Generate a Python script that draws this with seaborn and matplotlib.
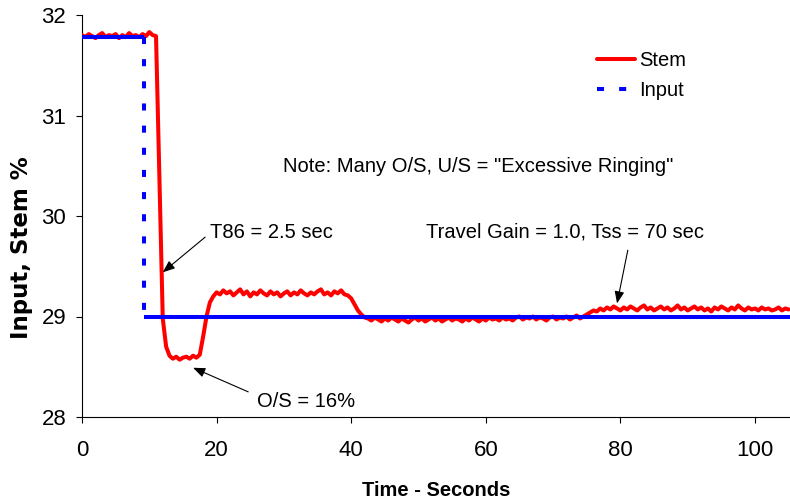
import matplotlib
matplotlib.use("Agg")
import matplotlib.pyplot as plt
import numpy as np
import pandas as pd
import seaborn as sns


# Stem trace, every 0.5 s, split in pieces with their start time
STEP = 0.5
stem_hold = [31.80, 31.78, 31.81, 31.79, 31.77, 31.80, 31.82, 31.78, 31.80, 31.79,
             31.81, 31.77, 31.80, 31.78, 31.82, 31.79, 31.80, 31.78, 31.81, 31.79,
             31.83, 31.80, 31.79]
stem_drop = [30.40, 28.98, 28.70, 28.61]
stem_bottom = [28.58, 28.60, 28.57, 28.59, 28.60, 28.58, 28.61, 28.59]
stem_rise = [28.62, 28.80, 29.00, 29.14, 29.20]
stem_high = [29.24, 29.22, 29.26, 29.23, 29.25, 29.21, 29.24, 29.27, 29.22, 29.25,
             29.20, 29.24, 29.22, 29.26, 29.23, 29.21, 29.25, 29.22, 29.24, 29.20,
             29.23, 29.25, 29.21, 29.24, 29.22, 29.26, 29.23, 29.21, 29.24, 29.22,
             29.25, 29.27, 29.22, 29.24, 29.21, 29.25, 29.23, 29.26, 29.22, 29.21]
stem_fall = [29.18, 29.12, 29.06, 29.02, 28.99]
stem_low = [28.98, 28.96, 28.99, 28.97, 28.95, 28.98, 28.96, 28.99, 28.97, 28.95,
            28.98, 28.96, 28.94, 28.97, 28.99, 28.96, 28.98, 28.95, 28.97, 28.99,
            28.96, 28.98, 28.95, 28.97, 28.99, 28.96, 28.98, 28.97, 28.95, 28.98,
            28.96, 28.99, 28.97, 28.95, 28.98, 28.96, 28.99, 28.97, 28.98, 28.96,
            28.99, 28.97, 28.98, 28.96, 28.99, 29.00, 28.97, 28.99, 28.98, 29.00,
            28.97, 28.99, 28.98, 28.96, 28.99, 29.00, 28.97, 28.99, 28.98, 29.00,
            28.97, 28.99, 29.01, 28.98, 29.00]
stem_settle = [29.02, 29.04, 29.06, 29.05, 29.08, 29.06, 29.09, 29.07, 29.10, 29.08,
               29.06, 29.09, 29.07, 29.10, 29.08, 29.06, 29.09, 29.11, 29.07, 29.09,
               29.06, 29.08, 29.10, 29.07, 29.09, 29.06, 29.08, 29.11, 29.07, 29.09,
               29.06, 29.08, 29.10, 29.07, 29.09, 29.06, 29.08, 29.05, 29.09, 29.07,
               29.10, 29.08, 29.06, 29.09, 29.07, 29.11, 29.08, 29.06, 29.09, 29.07,
               29.08, 29.06, 29.09, 29.07, 29.08, 29.06, 29.07, 29.09, 29.06, 29.08,
               29.07]
segment_starts = [0.0, 11.5, 13.5, 17.5, 20.0, 40.0, 42.5, 75.0]

# Input step
input_time = [0.0, 9.2, 9.2, 105.2]
input_value = [31.78, 31.78, 29.0, 29.0]

x_ticks = [0, 20, 40, 60, 80, 100]
y_ticks = [28, 29, 30, 31, 32]

TEXT_FONT = "Liberation Sans"


def build_stem() -> pd.DataFrame:
    pieces = [stem_hold, stem_drop, stem_bottom, stem_rise,
              stem_high, stem_fall, stem_low, stem_settle]
    times, values = [], []
    for start, vals in zip(segment_starts, pieces):
        times.extend(start + STEP * np.arange(len(vals)))
        values.extend(vals)
    return pd.DataFrame({"Time": times, "Value": values})


def main() -> None:
    sns.set_style("ticks")
    plt.rcParams["font.family"] = [TEXT_FONT, "DejaVu Sans"]
    plt.rcParams["text.color"] = "black"

    fig = plt.figure(figsize=(7.9, 5.01), dpi=100)
    ax = fig.add_axes([82 / 790, 84 / 501, 708 / 790, 402 / 501])

    stem = build_stem()
    sns.lineplot(data=stem, x="Time", y="Value", color="#FF0000", lw=2.9,
                 estimator=None, sort=False, label="Stem", ax=ax, zorder=3)

    input_label = "Input"
    for i in range(len(input_time) - 1):
        xs = input_time[i:i + 2]
        ys = input_value[i:i + 2]
        if ys[0] == ys[1]:
            ax.plot(xs, ys, color="#0000FF", lw=2.9, solid_capstyle="butt", zorder=4)
        else:
            ax.plot(xs, ys, color="#0000FF", lw=2.9, ls=(0, (1.75, 3.75)),
                    dash_capstyle="butt", label=input_label, zorder=4)
            input_label = "_nolegend_"

    ax.set_xlim(0, 105.2)
    ax.set_ylim(28, 32)
    ax.set_xticks(x_ticks)
    ax.set_yticks(y_ticks)
    ax.tick_params(axis="both", direction="out", length=4.3, width=0.8,
                   colors="black", labelsize=16)
    ax.tick_params(axis="x", pad=12)
    ax.tick_params(axis="y", pad=7)

    sns.despine(ax=ax)
    for side in ["left", "bottom"]:
        ax.spines[side].set_color("black")
        ax.spines[side].set_linewidth(0.8)

    ax.set_xlabel("Time - Seconds", fontsize=14.5, fontweight="bold", color="black")
    ax.xaxis.set_label_coords(0.5, -(491 - 417) / 402)
    ax.xaxis.label.set_va("center")
    ax.set_ylabel("Input, Stem %", family=["DejaVu Sans"], fontsize=16.5,
                  fontweight="bold", color="black")
    ax.yaxis.set_label_coords(-(82 - 22) / 708, (417 - 248) / 402)
    ax.yaxis.label.set_va("center")

    arrow = dict(arrowstyle="-|>,head_length=0.5,head_width=0.2", color="black",
                 lw=0.8, shrinkA=0, shrinkB=0, mutation_scale=14.5)
    ax.text(19.0, 29.84, "T86 = 2.5 sec", fontsize=14.5, va="center", ha="left")
    ax.annotate("", xy=(12.0, 29.44), xytext=(18.3, 29.79), arrowprops=arrow)
    ax.text(26.0, 28.15, "O/S = 16%", fontsize=14.5, va="center", ha="left")
    ax.annotate("", xy=(16.5, 28.49), xytext=(24.7, 28.25), arrowprops=arrow)
    ax.text(29.9, 30.49, 'Note: Many O/S, U/S = "Excessive Ringing"',
            fontsize=14.5, va="center", ha="left")
    ax.text(51.1, 29.84, "Travel Gain = 1.0, Tss = 70 sec",
            fontsize=14.5, va="center", ha="left")
    ax.annotate("", xy=(79.5, 29.13), xytext=(81.1, 29.66), arrowprops=arrow)

    handles, labels = ax.get_legend_handles_labels()
    ax.legend(handles, labels, loc="upper left",
              bbox_to_anchor=(597 / 790, 1 - 51 / 501),
              bbox_transform=fig.transFigure, frameon=False, fontsize=14.5,
              handlelength=1.9, handletextpad=0.2, labelspacing=0.55,
              borderpad=0, borderaxespad=0)

    fig.savefig("out.png", dpi=100)
    plt.close(fig)


if __name__ == "__main__":
    main()
